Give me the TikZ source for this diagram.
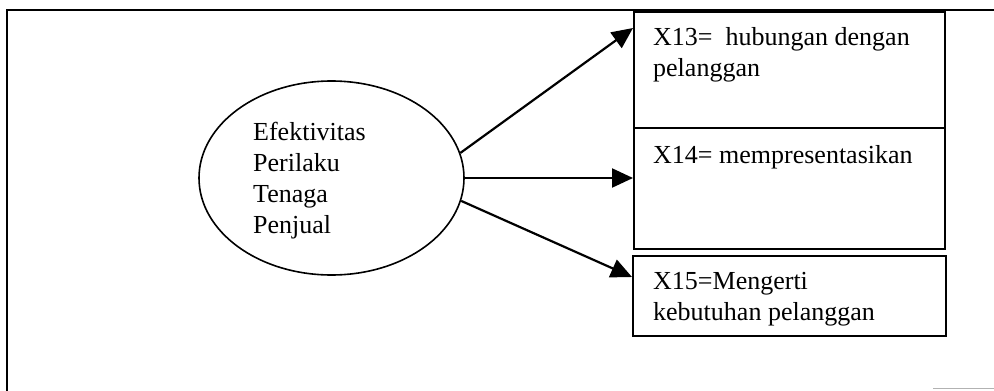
\documentclass[tikz,border=0pt]{standalone}
\usepackage{fontspec}
\setmainfont{Liberation Serif}
\usetikzlibrary{arrows.meta,calc,shapes.geometric}
\begin{document}
\begin{tikzpicture}[x=1pt,y=-1pt,
  frameline/.style={line width=2pt,black},
  boxstyle/.style={draw,line width=1.6pt,rectangle,anchor=north west,inner sep=0pt},
  lbl/.style={anchor=north west,inner sep=0pt,align=left,font=\fontsize{26}{31}\selectfont},
  link/.style={line width=2.2pt,-{Triangle[length=21pt,width=19pt]}},
]
\useasboundingbox (0,0) rectangle (994,391);
\fill[white] (0,0) rectangle (994,391);

% outer frame
\coordinate (ftl) at (7,10);
\coordinate (ftr) at (994,10);
\coordinate (fbl) at (7,391);
\draw[frameline] (ftr) -- (ftl) -- (fbl);
\coordinate (fb1) at (933,388);
\coordinate (fb2) at (994,388);
\draw[gray!60,line width=1pt] (fb1) -- (fb2);

% latent construct
\node[draw,ellipse,line width=1.6pt,minimum width=265pt,minimum height=194pt,inner sep=0pt] (e) at (331.5,178) {};
\node[lbl] (etext) at (253,122) {Efektivitas\\Perilaku\\Tenaga\\Penjual};

% indicator boxes
\node[boxstyle,minimum width=311pt,minimum height=116pt] (b1) at (633,11) {};
\node[boxstyle,minimum width=311pt,minimum height=121pt] (b2) at (633,127) {};
\node[boxstyle,minimum width=313pt,minimum height=80pt] (b3) at (632,255) {};

\node[lbl] (t1) at (653,27.5) {X13=~ hubungan dengan\\pelanggan};
\node[lbl] (t2) at (653,145) {X14= mempresentasikan};
\node[lbl] (t3) at (653,272.5) {X15=Mengerti\\kebutuhan pelanggan};

% loadings
\draw[link] (e.11) -- ($(b1.north west)+(0,17)$);
\draw[link] (e.east) -- (b2.west |- e.east);
\draw[link] (e.-10) -- ($(b3.north west)+(0,22)$);
\end{tikzpicture}
\end{document}
